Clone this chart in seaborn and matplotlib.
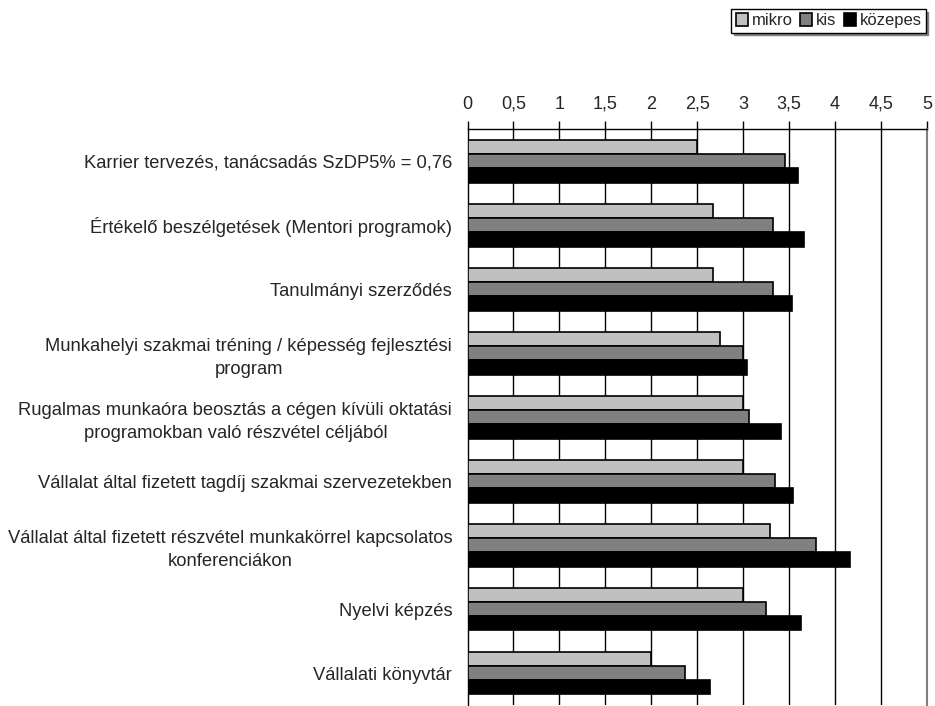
import matplotlib
matplotlib.use("Agg")
import matplotlib.pyplot as plt
import seaborn as sns
import pandas as pd
import numpy as np

categories = [
    "Karrier tervezés, tanácsadás SzDP5% = 0,76",
    "Értékelő beszélgetések (Mentori programok)",
    "Tanulmányi szerződés",
    "Munkahelyi szakmai tréning / képesség fejlesztési\nprogram",
    "Rugalmas munkaóra beosztás a cégen kívüli oktatási\nprogramokban való részvétel céljából",
    "Vállalat által fizetett tagdíj szakmai szervezetekben",
    "Vállalat által fizetett részvétel munkakörrel kapcsolatos\nkonferenciákon",
    "Nyelvi képzés",
    "Vállalati könyvtár",
]
series_names = ["mikro", "kis", "közepes"]
mikro = [2.50, 2.67, 2.67, 2.75, 3.00, 3.00, 3.29, 3.00, 2.00]
kis = [3.46, 3.33, 3.33, 3.00, 3.06, 3.35, 3.79, 3.25, 2.37]
kozepes = [3.60, 3.66, 3.53, 3.04, 3.41, 3.54, 4.16, 3.63, 2.64]
tick_values = [0, 0.5, 1, 1.5, 2, 2.5, 3, 3.5, 4, 4.5, 5]
tick_labels = ["0", "0,5", "1", "1,5", "2", "2,5", "3", "3,5", "4", "4,5", "5"]
colors = ["#C0C0C0", "#808080", "#000000"]

rows = []
for name, vals in zip(series_names, [mikro, kis, kozepes]):
    for c, v in zip(categories, vals):
        rows.append({"cat": c, "series": name, "value": v})
df = pd.DataFrame(rows)

sns.set_theme(style="white")
plt.rcParams["font.family"] = ["Liberation Sans", "DejaVu Sans"]
plt.rcParams["font.size"] = 13

fig = plt.figure(figsize=(9.35, 7.06), dpi=100)
ax = fig.add_axes([0.5, 0.0014, 0.4914, 0.8154])

sns.barplot(data=df, y="cat", x="value", hue="series", hue_order=series_names,
            order=categories, palette=colors, orient="h", width=0.67, gap=0,
            edgecolor="black", linewidth=1.2, saturation=1, ax=ax, legend=True, zorder=3)

ax.set_xlim(0, 5)
ax.set_ylim(len(categories) - 0.5, -0.5)
ax.set_xlabel("")
ax.set_ylabel("")

ax.xaxis.tick_top()
ax.set_xticks(tick_values)
ax.set_xticklabels(tick_labels, fontsize=13)
ax.tick_params(axis="x", which="major", direction="out", length=6, width=1,
               color="black", pad=6, top=True, bottom=False, labeltop=True, labelbottom=False)

ax.set_yticks(range(len(categories)))
ax.set_yticklabels(categories, fontsize=13.2, ha="right", multialignment="center",
                   linespacing=1.45)
ax.tick_params(axis="y", which="major", length=0, pad=11)
ax.set_yticks(np.arange(len(categories) + 1) - 0.5, minor=True)
ax.tick_params(axis="y", which="minor", direction="out", length=6, width=1, color="black")

for t in tick_values[1:-1]:
    ax.axvline(t, color="black", linewidth=1.0, zorder=1)

for side in ["top", "left"]:
    ax.spines[side].set_visible(True)
    ax.spines[side].set_color("black")
    ax.spines[side].set_linewidth(1.0)
ax.spines["right"].set_visible(True)
ax.spines["right"].set_color("#808080")
ax.spines["right"].set_linewidth(1.5)
ax.spines["bottom"].set_visible(False)

handles, labels = ax.get_legend_handles_labels()
ax.get_legend().remove()
leg = fig.legend(handles, labels, loc="upper right", bbox_to_anchor=(0.990, 0.987),
                 ncol=3, frameon=True, fancybox=False,
                 shadow={"color": "#808080", "alpha": 1.0}, fontsize=12,
                 handlelength=0.75, handleheight=0.75, handletextpad=0.2,
                 columnspacing=0.45, borderpad=0.25, borderaxespad=0.0)
leg.get_frame().set_edgecolor("black")
leg.get_frame().set_linewidth(1.0)

fig.savefig("out.png", dpi=100)
